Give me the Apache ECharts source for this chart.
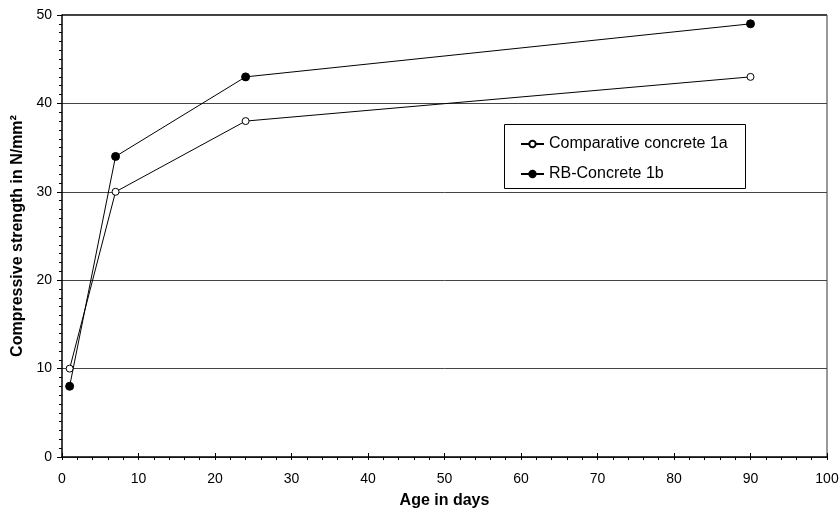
<!DOCTYPE html>
<html lang="en">
<head>
    <meta charset="UTF-8">
    <title>Compressive strength</title>
    <script src="https://cdn.jsdelivr.net/npm/echarts@6/dist/echarts.min.js"></script>
</head>
<body style="margin:0">
    <div id="main" style="width: 839px; height: 511px;"></div>
    <script>
        // age in days
        const days = [1, 7, 24, 90];
        const comparative1a = [10, 30, 38, 43];
        const rbConcrete1b = [8, 34, 43, 49];

        const toPairs = (ys) => days.map((d, i) => [d, ys[i]]);

        var myChart = echarts.init(document.getElementById('main'));
        const font = 'Arial, "Liberation Sans", sans-serif';

        let option = {
            animation: false,
            textStyle: { fontFamily: font },
            grid: { left: 62, right: 12, top: 15, bottom: 54, outerBoundsMode: 'none', containLabel: false },
            legend: {
                orient: 'vertical',
                left: 505,
                top: 124,
                padding: [12, 8, 8, 15],
                itemGap: 14,
                itemWidth: 23,
                itemHeight: 8,
                textStyle: { fontSize: 16, color: '#000', fontFamily: font },
                data: ['Comparative concrete 1a', 'RB-Concrete 1b']
            },
            xAxis: [{
                type: 'value',
                min: 0, max: 100, interval: 10,
                name: 'Age in days',
                nameLocation: 'middle',
                nameGap: 36,
                nameTextStyle: { fontWeight: 'bold', fontSize: 16, color: '#000' },
                axisLine: { lineStyle: { color: '#000', width: 1.5 } },
                axisTick: { length: 3, lineStyle: { color: '#000' } },
                minorTick: { show: true, splitNumber: 5, length: 3, lineStyle: { color: '#000' } },
                axisLabel: { color: '#000', fontSize: 14, margin: 15 },
                splitLine: { show: false }
            }, {
                // inner half of the major ticks
                type: 'value',
                position: 'bottom',
                min: 0, max: 100, interval: 10,
                axisLine: { show: false },
                axisTick: { inside: true, length: 4, lineStyle: { color: '#000' } },
                axisLabel: { show: false },
                splitLine: { show: false }
            }],
            yAxis: {
                type: 'value',
                min: 0, max: 50, interval: 10,
                name: 'Compressive strength in N/mm²',
                nameLocation: 'middle',
                nameGap: 33,
                nameTextStyle: { fontWeight: 'bold', fontSize: 16, color: '#000' },
                axisLine: { show: true, lineStyle: { color: '#000', width: 1.5 } },
                axisTick: { length: 5, lineStyle: { color: '#000' } },
                minorTick: { show: true, splitNumber: 10, length: 3, lineStyle: { color: '#000' } },
                axisLabel: { color: '#000', fontSize: 14, margin: 10 },
                splitLine: { show: true, lineStyle: { color: '#444', width: 1 } }
            },
            series: [
                {
                    name: 'Comparative concrete 1a',
                    type: 'line',
                    data: toPairs(comparative1a),
                    symbol: 'circle',
                    symbolSize: 7,
                    lineStyle: { color: '#000', width: 1 },
                    itemStyle: { color: '#fff', borderColor: '#000', borderWidth: 1 }
                },
                {
                    name: 'RB-Concrete 1b',
                    type: 'line',
                    data: toPairs(rbConcrete1b),
                    symbol: 'circle',
                    symbolSize: 8,
                    lineStyle: { color: '#000', width: 1 },
                    itemStyle: { color: '#000', borderColor: '#000', borderWidth: 1 }
                }
            ],
            graphic: [
                // top and right frame of the plot area
                { type: 'line', shape: { x1: 62, y1: 15, x2: 827, y2: 15 }, style: { stroke: '#000', lineWidth: 1.5 } },
                { type: 'line', shape: { x1: 827, y1: 15, x2: 827, y2: 457 }, style: { stroke: '#777', lineWidth: 1.5 } },
                // legend box
                { type: 'rect', z: 3, shape: { x: 504.5, y: 124.5, width: 241, height: 64 },
                  style: { fill: '#fff', stroke: '#000', lineWidth: 1 } }
            ]
        };

        myChart.setOption(option);
    </script>
</body>
</html>
